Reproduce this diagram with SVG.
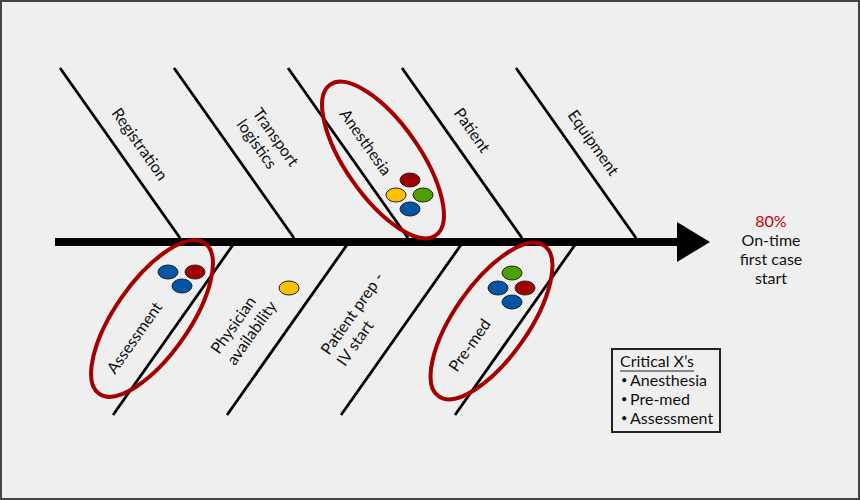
<svg xmlns="http://www.w3.org/2000/svg" width="860" height="500" viewBox="0 0 860 500">
<style>
text{font-family:Lato,"Liberation Sans",sans-serif;font-size:16px;fill:#111}
.bul{font-size:11px}
.bone{stroke:#000;stroke-width:2.8;fill:none}
.ring{fill:none;stroke:#a50000;stroke-width:4}
.dot{stroke:#222;stroke-width:1}
.r{fill:#a00000}.y{fill:#ffc000}.g{fill:#4ea000}.b{fill:#0055a5}
</style>
<rect x="1" y="1" width="858" height="498" fill="#efefef" stroke="#444" stroke-width="2"/>
<g id="connectors">
<rect x="55" y="238" width="624" height="8" fill="#000"/>
<polygon points="677,222 710,242 677,262" fill="#000"/>
<line class="bone" x1="60" y1="68" x2="180" y2="238"/>
<line class="bone" x1="174" y1="68" x2="294" y2="238"/>
<line class="bone" x1="288" y1="68" x2="408" y2="238"/>
<line class="bone" x1="402" y1="68" x2="522" y2="238"/>
<line class="bone" x1="516" y1="68" x2="636" y2="238"/>
<line class="bone" x1="235" y1="242" x2="113" y2="415"/>
<line class="bone" x1="349" y1="242" x2="227" y2="415"/>
<line class="bone" x1="463" y1="242" x2="341" y2="415"/>
<line class="bone" x1="577" y1="242" x2="455" y2="415"/>
</g>
<g id="registration"><text transform="translate(111,113) rotate(54.8)">Registration</text></g>
<g id="transport"><g transform="translate(252,113) rotate(54.8)"><text x="0" y="0">Transport</text><text x="0" y="19.5">logistics</text></g></g>
<g id="anesthesia">
<text transform="translate(339,114) rotate(54.8)">Anesthesia</text>
<ellipse class="dot r" cx="410" cy="180" rx="10" ry="7"/>
<ellipse class="dot y" cx="396" cy="195" rx="10" ry="7"/>
<ellipse class="dot g" cx="423" cy="195" rx="10" ry="7"/>
<ellipse class="dot b" cx="410" cy="209" rx="10" ry="7"/>
<ellipse class="ring" cx="383" cy="160" rx="92" ry="37" transform="rotate(55 383 160)"/>
</g>
<g id="patient"><text transform="translate(453,113) rotate(54.8)">Patient</text></g>
<g id="equipment"><text transform="translate(567,115) rotate(54.8)">Equipment</text></g>
<g id="assessment">
<text transform="translate(115,375) rotate(-54.8)">Assessment</text>
<ellipse class="dot b" cx="168" cy="272" rx="10" ry="7"/>
<ellipse class="dot r" cx="195" cy="272" rx="10" ry="7"/>
<ellipse class="dot b" cx="182" cy="286" rx="10" ry="7"/>
<ellipse class="ring" cx="152" cy="318.5" rx="92" ry="37" transform="rotate(-55 152 318.5)"/>
</g>
<g id="physician">
<g transform="translate(219,355) rotate(-54.8)"><text x="0" y="0">Physician</text><text x="0" y="19.5">availability</text></g>
<ellipse class="dot y" cx="289" cy="288" rx="10" ry="7"/>
</g>
<g id="patientprep"><g transform="translate(329,356) rotate(-54.8)"><text x="0" y="0">Patient prep -</text><text x="0" y="19.5">IV start</text></g></g>
<g id="premed">
<text transform="translate(457,373) rotate(-54.8)">Pre-med</text>
<ellipse class="dot g" cx="512" cy="273" rx="10" ry="7"/>
<ellipse class="dot b" cx="498" cy="288" rx="10" ry="7"/>
<ellipse class="dot r" cx="525" cy="288" rx="10" ry="7"/>
<ellipse class="dot b" cx="512" cy="302" rx="10" ry="7"/>
<ellipse class="ring" cx="491.5" cy="321" rx="92" ry="37" transform="rotate(-55 491.5 321)"/>
</g>
<g id="outcome" text-anchor="middle">
<text x="771" y="227" style="fill:#c00000">80%</text>
<text x="771" y="246">On-time</text>
<text x="771" y="265">first case</text>
<text x="771" y="284">start</text>
</g>
<g id="legend">
<rect x="612" y="349" width="108" height="83" fill="none" stroke="#222" stroke-width="2"/>
<text x="620" y="367">Critical X’s</text>
<line x1="620" y1="371" x2="694" y2="371" stroke="#222" stroke-width="1"/>
<text class="bul" x="621" y="384">•</text><text x="630" y="386">Anesthesia</text>
<text class="bul" x="621" y="403">•</text><text x="630" y="405">Pre-med</text>
<text class="bul" x="621" y="422">•</text><text x="630" y="424">Assessment</text>
</g>
</svg>
